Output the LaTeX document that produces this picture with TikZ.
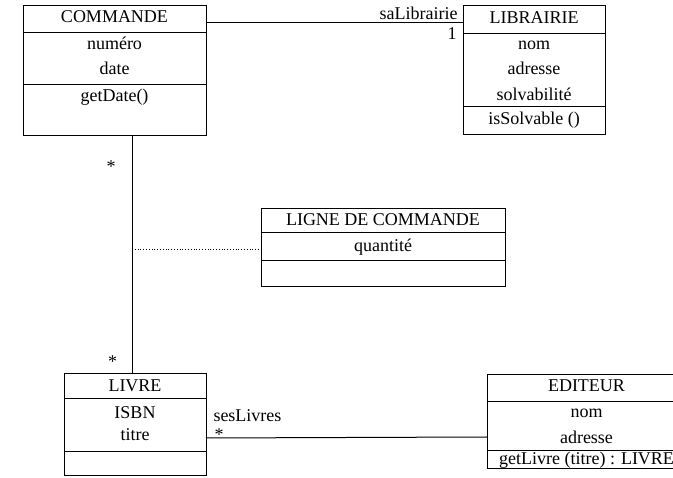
\documentclass[tikz,border=0pt]{standalone}
\usepackage{fontspec}
\setmainfont{Liberation Serif}
\usepackage{tikz}

\begin{document}
\begin{tikzpicture}[x=1pt,y=-1pt,line width=1pt,
		every node/.style={font=\fontsize{18}{20}\selectfont},
		cls/.style={draw,rectangle,inner sep=0,outer sep=0,anchor=north west},
		txt/.style={anchor=base,inner sep=0}]
	\useasboundingbox (0,0) rectangle (673,478);
	\clip (0,0) rectangle (673,478);
	\foreach \nm/\xa/\ya/\xb/\yb/\sa/\sb in {%
		cmd/23/6/206/136/33/85,
		lib/463/6/605/135/34/107,
		lig/261/209/505/287/233/261,
		liv/64/374/206/476/399/452,
		edi/487/375/686/469/402/451}{
		\node[cls,minimum width={\xb-\xa},minimum height={\yb-\ya}] (\nm) at (\xa,\ya) {};
		\draw (\xa,\sa) -- (\xb,\sa) (\xa,\sb) -- (\xb,\sb);
	}
	\foreach \t/\y [count=\i] in {COMMANDE/23,numéro/50,date/75,getDate()/102}
		\node[txt] (cmd\i) at (cmd.north |- 0,\y) {\t};
	\foreach \t/\y [count=\i] in {LIBRAIRIE/24,nom/50,adresse/75,solvabilité/101,isSolvable ()/125}
		\node[txt] (lib\i) at (lib.north |- 0,\y) {\t};
	\foreach \t/\y [count=\i] in {LIGNE DE COMMANDE/226,quantité/252}
		\node[txt] (lig\i) at (lig.north |- 0,\y) {\t};
	\foreach \t/\y [count=\i] in {LIVRE/392,ISBN/419,titre/441}
		\node[txt] (liv\i) at (liv.north |- 0,\y) {\t};
	\foreach \t/\y [count=\i] in {EDITEUR/392,nom/418,adresse/444,getLivre (titre) : LIVRE/465}
		\node[txt] (edi\i) at (edi.north |- 0,\y) {\t};
	\coordinate (j) at (132,249);
	\draw (cmd.east |- 0,23) -- (lib.west |- 0,23);
	\node[txt,anchor=base east] (role1) at (458,20) {saLibrairie};
	\node[txt,anchor=base east] (mult1) at (457,40) {1};
	\draw (cmd.south -| j) -- (liv.north -| j);
	\node[txt] (mult2) at (111,173) {*};
	\node[txt] (mult3) at (112.5,368) {*};
	\draw[dotted,line width=0.8pt] (j) -- (lig.west |- j);
	\draw (liv.east |- 0,438) -- (edi.west |- 0,437);
	\node[txt,anchor=base west] (role2) at (213,422) {sesLivres};
	\node[txt] (mult4) at (219,441) {*};
\end{tikzpicture}
\end{document}
